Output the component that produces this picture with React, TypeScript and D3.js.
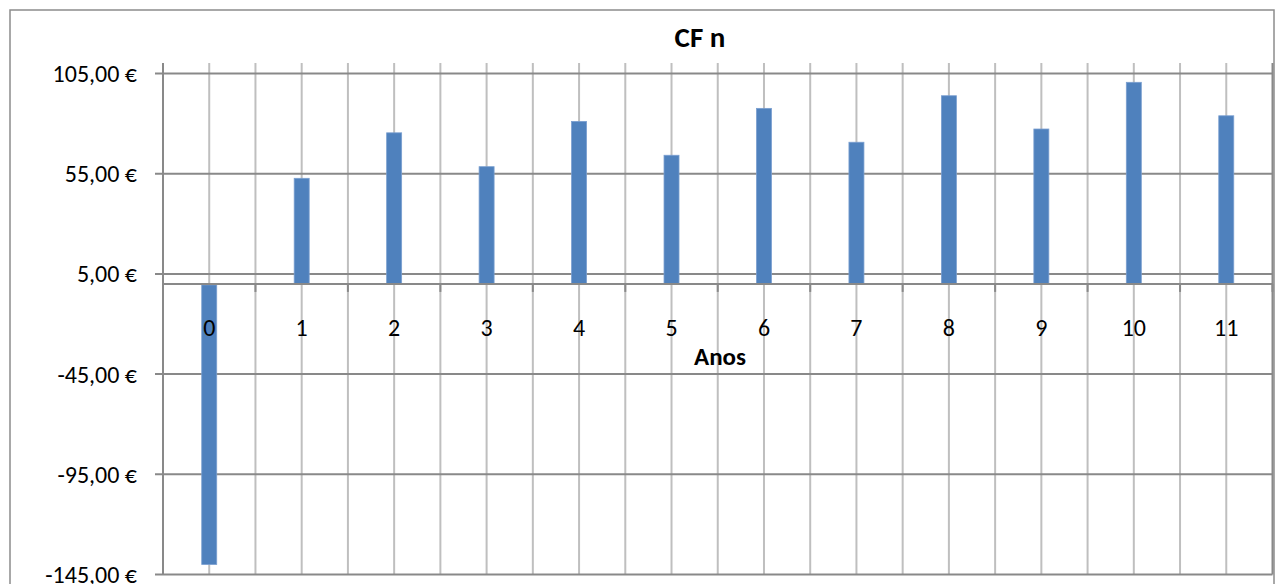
import React from "react";
import * as d3 from "d3";

const years: string[] = ["0", "1", "2", "3", "4", "5", "6", "7", "8", "9", "10", "11"];
const cashFlows: number[] = [-140, 52.7, 75.4, 58.5, 81.1, 64.2, 87.6, 70.7, 93.9, 77.3, 100.6, 83.9];
const yTicks: number[] = [105, 55, 5, -45, -95, -145];
const title = "CF n";
const xTitle = "Anos";

const W = 1279;
const H = 584;
const FONT = "Carlito, Calibri, Lato, 'Liberation Sans', sans-serif";

export default function App() {
  const left = 163;
  const right = 1272.5;
  const plotTop = 63;
  const x = d3.scaleBand<string>().domain(years).range([left, right]).padding(0);
  const y = d3.scaleLinear().domain([-145, 105]).range([574.5, 73.5]);
  const bw = x.bandwidth();
  const barW = 15;
  const fmt = (v: number) =>
    (v < 0 ? "-" : "") + Math.abs(v).toFixed(2).replace(".", ",") + " €";
  const y0 = y(0);

  const boundaries = d3.range(years.length + 1).map((i) => left + i * bw);
  const centers = years.map((c) => (x(c) as number) + bw / 2);

  return (
    <svg width={W} height={H} style={{ position: "absolute", left: 0, top: 0, display: "block" }} fontFamily={FONT}>
      <rect x={0} y={0} width={W} height={H} fill="#fff" />
      <rect x={10} y={10} width={1264} height={H + 20} fill="#fff" stroke="#8c8c8c" strokeWidth={1.5} />
      <text x={700} y={46.5} textAnchor="middle" fontSize={29} fontWeight="bold" fill="#000">{title}</text>

      {/* vertical gridlines */}
      {boundaries.slice(1, -1).map((bx, i) => (
        <line key={"vb" + i} x1={bx} x2={bx} y1={plotTop} y2={y(-145)} stroke="#bfbfbf" strokeWidth={2} />
      ))}
      {centers.map((cx, i) => (
        <line key={"vc" + i} x1={cx} x2={cx} y1={plotTop} y2={y(-145)} stroke="#bfbfbf" strokeWidth={2} />
      ))}

      {/* horizontal gridlines */}
      {yTicks.map((t) => (
        <g key={"h" + t}>
          <line x1={155} x2={right} y1={y(t)} y2={y(t)} stroke="#898989" strokeWidth={2} />
          <text x={137} y={y(t)} dy="0.35em" textAnchor="end" fontSize={24} fill="#000">{fmt(t)}</text>
        </g>
      ))}

      {/* plot edges */}
      <line x1={left} x2={left} y1={plotTop} y2={y(-145)} stroke="#898989" strokeWidth={2} />
      <line x1={right} x2={right} y1={plotTop} y2={y(-145)} stroke="#898989" strokeWidth={2} />

      {/* bars */}
      {years.map((c, i) => {
        const v = cashFlows[i];
        const cx = (x(c) as number) + bw / 2;
        const top = v >= 0 ? y(v) : y0 + 1;
        const bottom = v >= 0 ? y0 : y(v);
        return (
          <rect key={"b" + c} x={cx - barW / 2} y={top} width={barW} height={bottom - top} fill="#4f81bd" stroke="#7a9fd0" strokeWidth={0.8} />
        );
      })}

      {/* x axis at zero */}
      <line x1={left} x2={right} y1={y0} y2={y0} stroke="#898989" strokeWidth={2} />
      {boundaries.map((bx, i) => (
        <line key={"xt" + i} x1={bx} x2={bx} y1={y0} y2={y0 + 8} stroke="#898989" strokeWidth={2} />
      ))}
      {years.map((c) => (
        <text key={"xl" + c} x={(x(c) as number) + bw / 2} y={336} textAnchor="middle" fontSize={24} fill="#000">{c}</text>
      ))}
      <text x={720} y={365} textAnchor="middle" fontSize={25} fontWeight="bold" fill="#000">{xTitle}</text>
    </svg>
  );
}
